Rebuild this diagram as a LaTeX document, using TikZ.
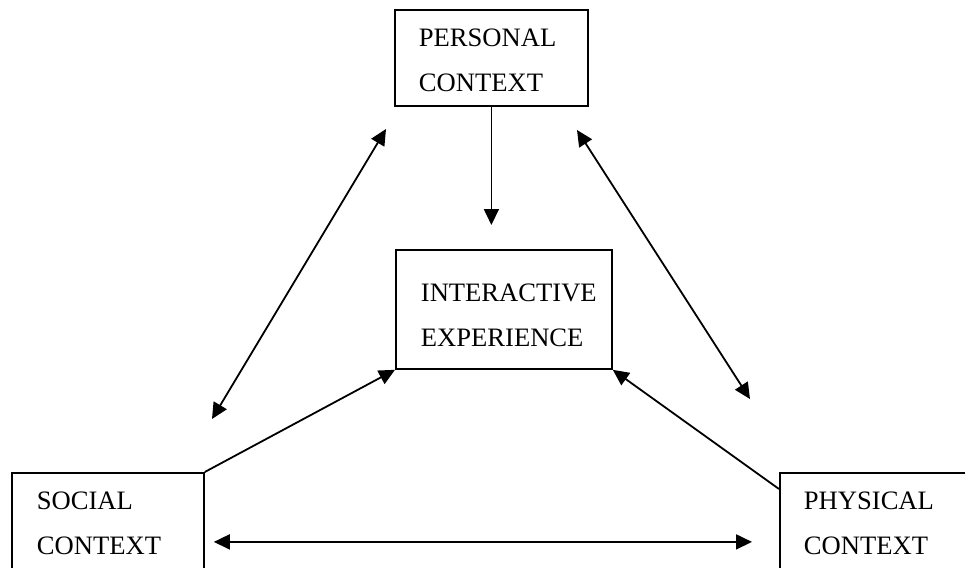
\documentclass[tikz,border=0pt]{standalone}
\usepackage{fontspec}
\setmainfont{Liberation Serif}
\usetikzlibrary{arrows.meta,positioning,calc}

\begin{document}
\begin{tikzpicture}[x=0.5pt, y=-0.5pt, line width=0.9pt,
    >={Triangle[length=8pt,width=7.5pt]},
    block/.style={rectangle, draw, anchor=north west, align=left, inner xsep=12pt, inner ysep=0pt, font=\fontsize{13.3}{22.5}\selectfont}]
    \useasboundingbox (0,0) rectangle (965,568);
    \node [block, text width=72.5pt, minimum height=48pt] (personal) at (394,9) {\rule{0pt}{11pt}PERSONAL\\CONTEXT};
    \node [block, inner xsep=12.5pt, text width=83pt, minimum height=59.5pt] (interactive) at (395,249) {\rule{0pt}{15pt}INTERACTIVE\\EXPERIENCE};
    \node [block, inner xsep=12.5pt, text width=71pt, minimum height=50pt] (social) at (11,472) {SOCIAL\\CONTEXT};
    \node [block, text width=74pt, minimum height=50pt] (physical) at (779,472) {PHYSICAL\\CONTEXT};
    % free ends of the two side arrows
    \coordinate (pleft) at (386,129);
    \coordinate (sleft) at (212,419);
    \coordinate (pright) at (577,130);
    \coordinate (sright) at (750,399);
    \draw[->, shorten >=12pt] (personal.south) -- (personal.south |- interactive.north);
    \draw[<->] (pleft) -- (sleft);
    \draw[<->] (pright) -- (sright);
    \draw[->] (social.north east) -- (interactive.south west);
    \draw[->] ($(physical.north west)+(0,17)$) -- (interactive.south east);
    \draw[<->, shorten <=4.5pt, shorten >=13.5pt] ([yshift=-9.5pt]social.east) -- ([yshift=-9.5pt]physical.west);
\end{tikzpicture}
\end{document}
